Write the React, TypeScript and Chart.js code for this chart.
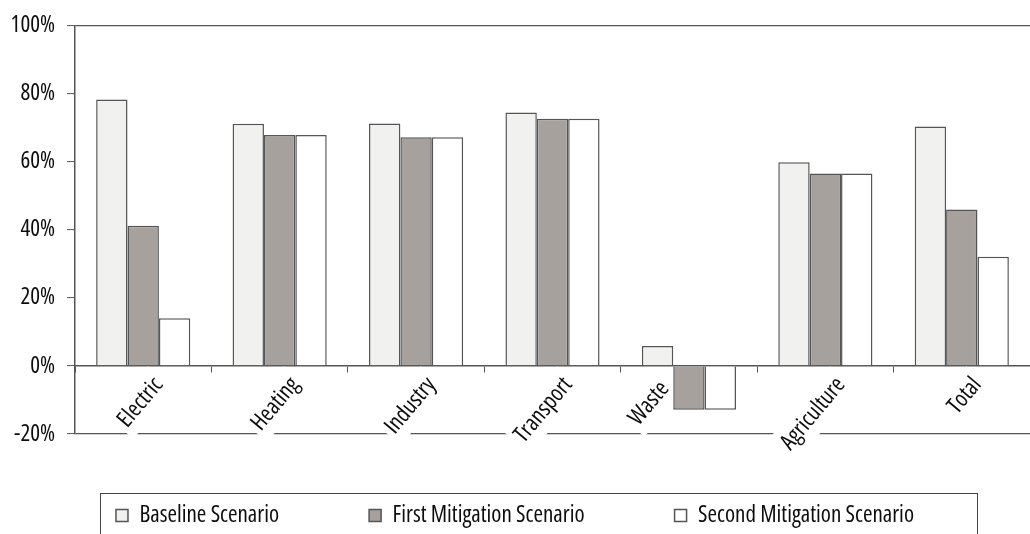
import React, { useEffect, useRef } from "react";
import { Chart, registerables } from "chart.js";

Chart.register(...registerables);

const categories = ["Electric", "Heating", "Industry", "Transport", "Waste", "Agriculture", "Total"];
const baselineScenario = [78.3, 71.2, 71.3, 74.5, 5.9, 59.9, 70.4];
const firstMitigation = [41.2, 67.9, 67.2, 72.7, -12.9, 56.6, 46.0];
const secondMitigation = [14.0, 67.9, 67.2, 72.7, -12.9, 56.6, 32.1];
const seriesNames = ["Baseline Scenario", "First Mitigation Scenario", "Second Mitigation Scenario"];
const yTickValues = [-20, 0, 20, 40, 60, 80, 100];

const FAMILY = "'Open Sans', 'Roboto', sans-serif";
// font-stretch keyword goes into the canvas font shorthand together with the weight
const NARROW = "500 condensed";
const INK = "#0d0d0d";
const EDGE = "#555555";

// Legend spacing: the same padding separates the items and sits above them,
// so a negative-height legend title pulls the row back up
const LEGEND_GAP = 90;
const LEGEND_ROW_OFFSET = 70;

// Labels of categories that dip below zero are moved to the left of their bars
const labelClearance = {
  id: "labelClearance",
  beforeDraw(chart: any) {
    const xScale = chart.scales.x;
    if (!xScale) return;
    const items = xScale.getLabelItems(chart.chartArea);
    const meta = chart.getDatasetMeta(1);
    const series = [baselineScenario, firstMitigation, secondMitigation];
    categories.forEach((_, i) => {
      if (!series.some((s) => s[i] < 0)) return;
      const bar = meta.data[i];
      const item = items[i];
      if (!bar || !item) return;
      item.options.translation[0] = bar.x - bar.width / 2 - 19;
      item.options.translation[1] += 4;
    });
  },
};

// Frame drawn around the legend row, open at the bottom edge of the page
const legendFrame = {
  id: "legendFrame",
  afterDraw(chart: any) {
    const legend = chart.legend;
    if (!legend || !legend.legendHitBoxes || !legend.legendHitBoxes.length) return;
    const boxes = legend.legendHitBoxes;
    const first = boxes[0];
    const last = boxes[boxes.length - 1];
    const ctx = chart.ctx;
    const left = first.left - 16;
    const right = last.left + last.width + 63;
    const top = first.top - 11;
    const bottom = chart.height + 20;
    ctx.save();
    ctx.strokeStyle = "#444";
    ctx.lineWidth = 1;
    ctx.strokeRect(Math.round(left) + 0.5, Math.round(top) + 0.5, Math.round(right - left), bottom - top);
    ctx.restore();
  },
};

export default function App() {
  const ref = useRef<HTMLCanvasElement | null>(null);

  useEffect(() => {
    if (!ref.current) return;
    const chart = new Chart(ref.current, {
      type: "bar",
      data: {
        labels: categories,
        datasets: [
          {
            label: seriesNames[0],
            data: baselineScenario,
            backgroundColor: "#f1f1f0",
            borderColor: EDGE,
            borderWidth: 1.5,
          },
          {
            label: seriesNames[1],
            data: firstMitigation,
            backgroundColor: "#a6a19d",
            borderColor: EDGE,
            borderWidth: 1.5,
          },
          {
            label: seriesNames[2],
            data: secondMitigation,
            backgroundColor: "#ffffff",
            borderColor: EDGE,
            borderWidth: 1.5,
          },
        ],
      },
      plugins: [labelClearance, legendFrame],
      options: {
        responsive: false,
        animation: false,
        devicePixelRatio: 1,
        layout: { padding: { left: 0, top: 18, right: 0, bottom: 0 } },
        datasets: {
          bar: { categoryPercentage: 0.69, barPercentage: 1.0 },
        },
        scales: {
          x: {
            position: { y: 0 },
            z: 1,
            offset: true,
            grid: {
              drawOnChartArea: false,
              offset: true,
              tickLength: 6,
              tickColor: EDGE,
              tickWidth: 1,
            },
            border: { display: true, color: EDGE, width: 1.5 },
            ticks: {
              minRotation: 50,
              maxRotation: 50,
              autoSkip: false,
              padding: 0,
              labelOffset: 5,
              color: INK,
              font: { family: FAMILY, size: 23, weight: NARROW },
              showLabelBackdrop: true,
              backdropColor: "#ffffff",
              backdropPadding: 4,
            },
          },
          y: {
            min: -20,
            max: 100,
            afterFit(scale: any) {
              scale.width = 75;
            },
            afterBuildTicks(scale: any) {
              scale.ticks = yTickValues.map((v) => ({ value: v }));
            },
            grid: {
              color: (c: any) =>
                c.tick && (c.tick.value === 100 || c.tick.value === -20) ? EDGE : "rgba(0,0,0,0)",
              lineWidth: 1.2,
              tickLength: 8,
              tickColor: EDGE,
              tickWidth: 1,
            },
            border: { display: true, color: EDGE, width: 1.5 },
            ticks: {
              padding: 12,
              color: INK,
              font: { family: FAMILY, size: 23, weight: NARROW },
              callback: (v: any) => `${v}%`,
            },
          },
        },
        plugins: {
          tooltip: { enabled: false },
          legend: {
            position: "bottom",
            title: {
              display: true,
              text: " ",
              font: { size: 1, lineHeight: 1 },
              padding: { top: LEGEND_ROW_OFFSET - LEGEND_GAP - 1, bottom: 0 },
            },
            labels: {
              boxWidth: 12,
              boxHeight: 12,
              padding: LEGEND_GAP,
              color: INK,
              font: { family: FAMILY, size: 23, weight: NARROW },
            },
          },
        },
      },
    });
    return () => chart.destroy();
  }, []);

  return (
    <div
      style={{
        position: "fixed",
        left: 0,
        top: 0,
        width: 1030,
        height: 534,
        overflow: "hidden",
        background: "#ffffff",
      }}
    >
      <canvas ref={ref} width={1030} height={537} style={{ width: 1030, height: 537, display: "block" }} />
    </div>
  );
}
